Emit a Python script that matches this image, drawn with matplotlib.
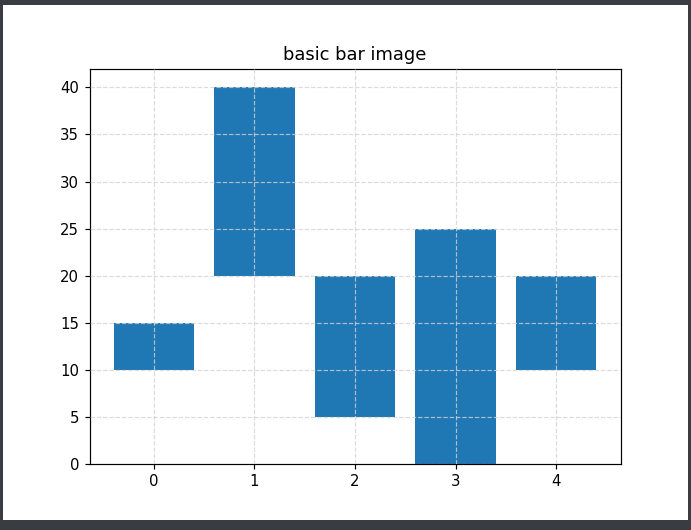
import matplotlib
matplotlib.use("Agg")
import matplotlib.pyplot as plt
from matplotlib.patches import Rectangle

categories = [0, 1, 2, 3, 4]
bottoms = [10, 20, 5, 0, 10]
tops = [15, 40, 20, 25, 20]
heights = [t - b for t, b in zip(tops, bottoms)]

DPI = 107
fig = plt.figure(figsize=(691 / DPI, 530 / DPI), dpi=DPI)
fig.patch.set_facecolor("#393c40")
fig.add_artist(Rectangle((3 / 691, 10 / 530), 685 / 691, 515 / 530,
                         transform=fig.transFigure, facecolor="white",
                         edgecolor="none", zorder=-5))

ax = fig.add_axes([89.5 / 691, 1 - 464 / 530, 531 / 691, 395.5 / 530])
ax.set_zorder(1)
ax.bar(categories, heights, bottom=bottoms, color="#1f77b4", width=0.8)
ax.set_title("basic bar image")
ax.grid(True, linestyle="--", color="lightgray", alpha=0.8)
ax.set_axisbelow(False)

fig.savefig("out.png", dpi=DPI, facecolor=fig.get_facecolor())
